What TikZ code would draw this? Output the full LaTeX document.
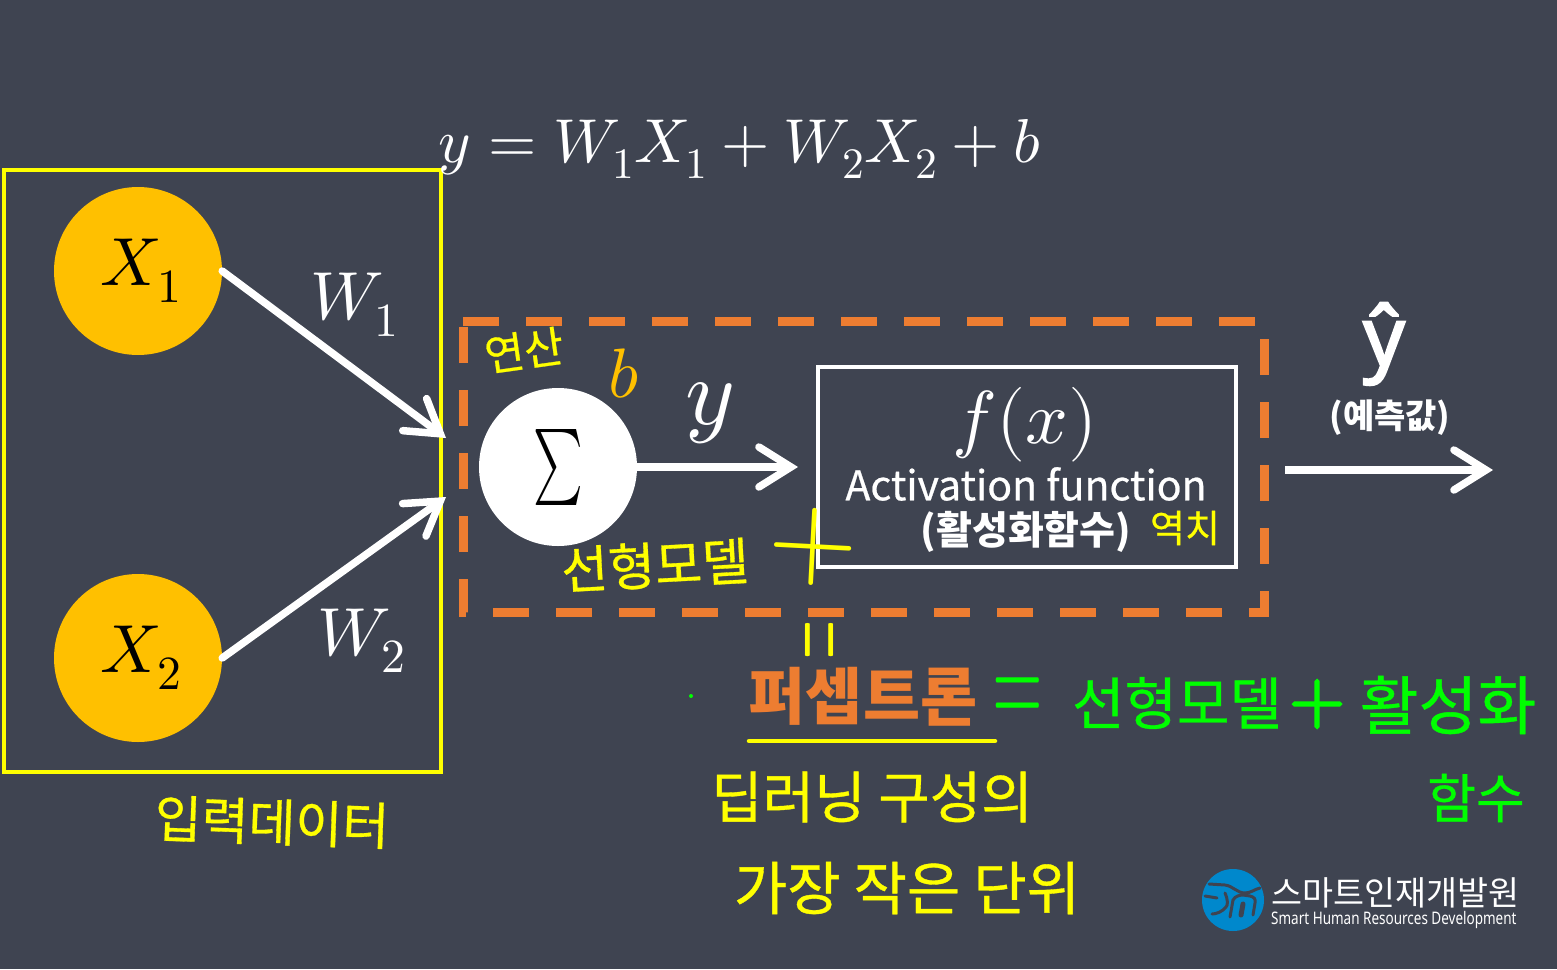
\documentclass[tikz,border=0pt]{standalone}
\usepackage{fontspec}
\usepackage{unicode-math}
\usepackage{tikz}
\usetikzlibrary{arrows.meta, positioning, calc}
\setmathfont{Latin Modern Math}
\setmainfont{Noto Sans CJK KR}
\newfontfamily\penfont[FakeBold=0.6]{Noto Sans CJK KR}
\newfontfamily\logofont[FakeStretch=0.78]{Noto Sans}
\newfontfamily\hatfont[FakeBold=2.5]{Noto Sans}
\newfontfamily\markfont[FakeBold=3]{Latin Modern Math}
\definecolor{slidebg}{RGB}{63,68,81}
\definecolor{inputgold}{RGB}{255,192,0}
\definecolor{boxorange}{RGB}{237,125,49}
\definecolor{penyellow}{RGB}{255,255,0}
\definecolor{pengreen}{RGB}{0,255,0}
\definecolor{logoblue}{RGB}{0,136,204}
\newcommand{\fs}[1]{\fontsize{#1}{#1}\selectfont}
\tikzset{
  input/.style={circle, fill=inputgold, minimum size=168pt, inner sep=0pt, text=black, font=\fs{68}},
  sumnode/.style={circle, fill=white, minimum size=158pt, inner sep=0pt, text=black, font=\fs{76}},
  activation/.style={draw=white, line width=4.5pt, minimum width=418pt, minimum height=200pt, inner sep=0pt},
  math/.style={text=white, inner sep=0pt},
  label/.style={text=white, inner sep=0pt, align=center},
  pen/.style={text=penyellow, inner sep=0pt, align=center},
  greenpen/.style={text=pengreen, inner sep=0pt, align=center},
  weight/.style={->, >={Straight Barb[length=32pt, width=40pt, line cap=round]}, line width=7.5pt, draw=white, line cap=round},
  stroke/.style={draw=penyellow, line width=4.5pt, line cap=round},
  logocut/.style={draw=slidebg, line width=3pt, line cap=round},
}
\begin{document}
\begin{tikzpicture}[x=1pt, y=-1pt]
\useasboundingbox[fill=slidebg] (0,0) rectangle (1557,969);
% input data
\node[draw=penyellow, line width=4.5pt, minimum width=437pt, minimum height=602pt, inner sep=0pt] (inputbox) at (222.5,471) {};
\node[input] (x1) at (138,271) {\raisebox{-2pt}{\hspace{6pt}$X_1$}};
\node[input] (x2) at (138,658) {\raisebox{-2pt}{\hspace{6pt}$X_2$}};
\node[pen, font=\penfont\fs{51}, rotate=-2] (inputlabel) at (272,822) {입력데이터};
% perceptron
\draw[draw=boxorange, line width=9pt, dash pattern=on 36pt off 27pt] (463,321) -- (1264,321) -- (1264,612) -- (463,612) -- cycle;
\node[sumnode] (sum) at (558,467) {\raisebox{-2pt}{\scalebox{0.62}[1]{$\sum$}}};
\node[activation] (act) at (1027,467) {};
\node[math, font=\fs{75}] (fx) at (1025,425) {$f(x)$};
\node[label, font=\penfont\fs{41}] (actname) at (1026,484) {Activation function};
\node[label, font=\bfseries\fs{39}] (actkor) at (1026,532) {(활성화함수)};
\node[math, text=inputgold, font=\fs{70}] (bias) at (624,374) {$b$};
\node[math, font=\fs{95}] (ylabel) at (710,413) {$y$};
\node[pen, font=\penfont\fs{43}, rotate=8] (calc) at (524,350) {연산};
\node[pen, font=\penfont\fs{51}, rotate=3] (linear) at (655,565) {선형모델};
\node[pen, font=\penfont\fs{38}] (theta) at (1185,528) {역치};
% equation and weights
\node[math, font=\fs{62}] (eq) at (740,149) {$y = W_1X_1 + W_2X_2 + b$};
\node[math, font=\fs{68}] (w1) at (355,305) {$W_1$};
\node[math, font=\fs{68}] (w2) at (362,641) {$W_2$};
\coordinate (in1) at (446,438);
\coordinate (in2) at (446,497);
\coordinate (sumout) at (798,467);
\coordinate (outstart) at (1285,470);
\coordinate (outend) at (1493,470);
\draw[weight] (x1.east) -- (in1);
\draw[weight] (x2.east) -- (in2);
\draw[weight] (sum.east) -- (sumout);
\draw[weight, line cap=butt] (outstart) -- (outend);
% output
\node[label, font=\hatfont\fs{82}] (yhat) at (1384,344) {ŷ};
\node[label, font=\bfseries\fs{34}] (pred) at (1390,418) {(예측값)};
% hand marks
\node[pen, font=\fs{116}, rotate=-3] (handplus) at (813,547) {$+$};
\node[pen, font=\fs{50}, rotate=90] (handeq) at (827,640) {\scalebox{1}[2.4]{$=$}};
% perceptron title
\node[label, text=boxorange, font=\bfseries\fs{62}] (title) at (863,697) {퍼셉트론};
\coordinate (ulinel) at (749,741);
\coordinate (uliner) at (995,741);
\draw[stroke] (ulinel) -- (uliner);
\node[pen, font=\penfont\fs{56}] (dl) at (872,797) {딥러닝 구성의};
\node[pen, font=\penfont\fs{58}] (unit) at (907,888) {가장 작은 단위};
\node[greenpen, font=\fs{65}] (geq) at (1018,702) {\scalebox{1}[2]{$=$}};
\node[greenpen, font=\penfont\fs{57}] (glinear) at (1177,703) {선형모델};
\node[greenpen, font=\markfont\fs{72}] (gplus) at (1317,704) {+};
\node[greenpen, font=\penfont\fs{64}] (gact) at (1448,705) {활성화};
\node[greenpen, font=\penfont\fs{53}] (gfunc) at (1476,798) {함수};
\fill[pengreen] (691,696) circle (2pt);
% logo
\node[circle, fill=logoblue, minimum size=62pt, inner sep=0pt] (logo) at (1233,900) {};
\draw[logocut] (1209,884) -- (1225,885) .. controls (1233,886) and (1237,893) .. (1245,893) .. controls (1251,893) and (1255,889) .. (1260,888);
\draw[logocut] (1205,896) -- (1217,898);
\draw[logocut] (1225,893) .. controls (1228,900) and (1228,905) .. (1226,907) .. controls (1222,912) and (1216,914) .. (1212,914);
\draw[logocut] (1230,917) -- (1233,900) .. controls (1235,896) and (1240,895) .. (1243,895) -- (1250,896) .. controls (1254,897) and (1256,899) .. (1255,903) -- (1253,915);
\draw[logocut, line width=5pt] (1243,904) -- (1241,915);
\node[text=white, inner sep=0pt, anchor=west, font=\fs{33.7}] (logokr) at (1271,893) {스마트인재개발원};
\node[text=white, inner sep=0pt, anchor=west, font=\logofont\fs{17.3}] (logoen) at (1271,920) {Smart Human Resources Development};
\end{tikzpicture}
\end{document}
